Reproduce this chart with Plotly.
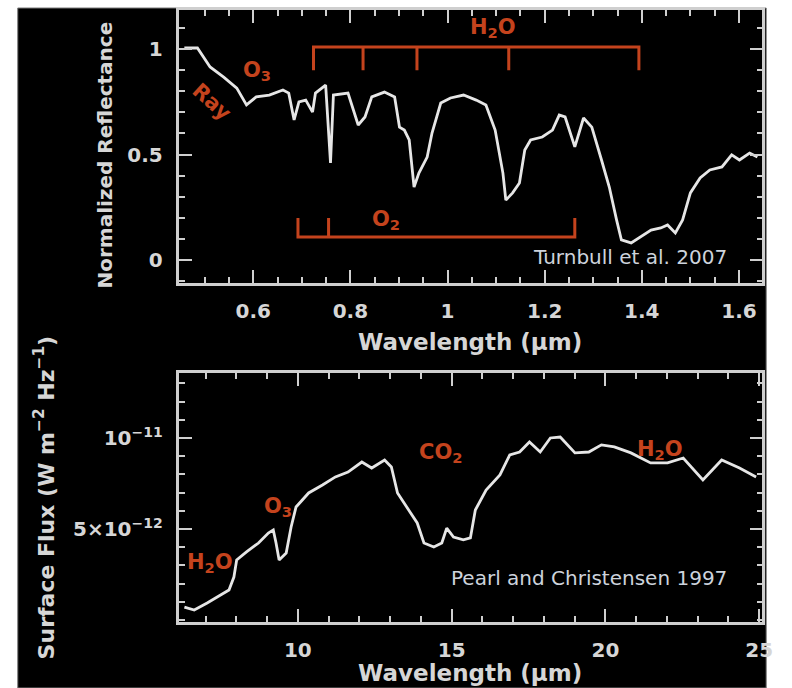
import plotly.graph_objects as go

# ---------------- data ----------------
# Top panel: Earthshine reflectance (Turnbull et al. 2007)
vis_wl = [0.458, 0.485, 0.511, 0.539, 0.566, 0.586, 0.606, 0.633, 0.661, 0.673, 0.684, 0.694,
          0.708, 0.722, 0.728, 0.749, 0.759, 0.765, 0.795, 0.816, 0.830, 0.844, 0.870, 0.891,
          0.901, 0.911, 0.921, 0.931, 0.941, 0.958, 0.968, 0.986, 1.006, 1.033, 1.059, 1.079,
          1.098, 1.114, 1.120, 1.134, 1.148, 1.159, 1.171, 1.195, 1.216, 1.230, 1.242, 1.262,
          1.280, 1.297, 1.317, 1.333, 1.348, 1.358, 1.378, 1.398, 1.419, 1.439, 1.453, 1.469,
          1.484, 1.500, 1.520, 1.540, 1.565, 1.585, 1.601, 1.622, 1.638]
vis_refl = [1.005, 1.005, 0.915, 0.867, 0.815, 0.735, 0.773, 0.782, 0.806, 0.791, 0.664, 0.749,
            0.758, 0.701, 0.791, 0.829, 0.460, 0.782, 0.791, 0.640, 0.678, 0.773, 0.796, 0.773,
            0.630, 0.616, 0.569, 0.346, 0.412, 0.488, 0.602, 0.744, 0.768, 0.782, 0.758, 0.735,
            0.616, 0.412, 0.284, 0.318, 0.365, 0.521, 0.569, 0.583, 0.616, 0.687, 0.678, 0.536,
            0.673, 0.630, 0.474, 0.346, 0.190, 0.095, 0.081, 0.109, 0.142, 0.152, 0.166, 0.128,
            0.190, 0.318, 0.389, 0.427, 0.441, 0.498, 0.474, 0.507, 0.488]

# Bottom panel: thermal surface flux (Pearl and Christensen 1997), units of 1e-12
ir_wl = [6.31, 6.63, 7.05, 7.47, 7.76, 7.92, 8.01, 8.33, 8.72, 9.04, 9.20, 9.29, 9.39, 9.62,
         9.78, 9.94, 10.35, 10.80, 11.22, 11.63, 12.08, 12.40, 12.82, 13.04, 13.24, 13.56,
         13.88, 14.10, 14.42, 14.68, 14.84, 15.06, 15.38, 15.61, 15.77, 16.12, 16.57, 16.89,
         17.21, 17.53, 17.88, 18.21, 18.53, 19.01, 19.46, 19.87, 20.29, 20.83, 21.47, 22.02,
         22.53, 23.17, 23.78, 24.36, 24.90]
ir_flux_e12 = [0.71, 0.55, 0.93, 1.37, 1.65, 2.36, 3.30, 3.74, 4.23, 4.78, 4.95, 4.23, 3.30, 3.68,
               5.11, 6.21, 6.98, 7.42, 7.86, 8.13, 8.68, 8.35, 8.79, 8.41, 6.98, 6.15,
               5.33, 4.23, 4.01, 4.23, 5.05, 4.56, 4.40, 4.51, 6.04, 7.14, 7.97, 9.07,
               9.23, 9.78, 9.23, 10.00, 10.05, 9.18, 9.23, 9.62, 9.51, 9.18, 8.63, 8.63,
               8.90, 7.69, 8.79, 8.35, 7.86]
ir_flux = [v * 1e-12 for v in ir_flux_e12]

# absorption-band brackets (top panel)
h2o_bracket_wl = [0.724, 0.826, 0.937, 1.126, 1.394]
h2o_bracket_y = [1.010, 0.900]   # bar level, tick end
o2_bracket_wl = [0.692, 0.755, 1.262]
o2_bracket_y = [0.109, 0.199]

# tick labels
top_xticks = [0.6, 0.8, 1.0, 1.2, 1.4, 1.6]
top_xticklabels = ["0.6", "0.8", "1", "1.2", "1.4", "1.6"]
top_yticks = [0, 0.5, 1]
top_yticklabels = ["0", "0.5", "1"]
bot_xticks = [10, 15, 20, 25]
bot_xticklabels = ["10", "15", "20", "25"]
bot_yticks = [5e-12, 1e-11]
bot_yticklabels = ["5×10<sup>−12</sup>", "10<sup>−11</sup>"]

# ---------------- styling ----------------
W, H = 792, 688
RED = "#c4431d"
AX = "#cfcfcf"
TXT = "#d6d6d6"
LINE = "#e6e6e6"
FONT = "DejaVu Sans"


def px(x):
    return x / W


def py(y):
    return 1 - y / H


fig = go.Figure()

fig.add_trace(go.Scatter(x=vis_wl, y=vis_refl, mode="lines",
                         line=dict(color=LINE, width=2.8), xaxis="x", yaxis="y",
                         hoverinfo="skip", showlegend=False))


def bracket(xs, ys):
    bx, by = [xs[0], xs[0], xs[-1], xs[-1], None], [ys[1], ys[0], ys[0], ys[1], None]
    for v in xs[1:-1]:
        bx += [v, v, None]
        by += [ys[0], ys[1], None]
    return bx, by


hx, hy = bracket(h2o_bracket_wl, h2o_bracket_y)
ox, oy = bracket(o2_bracket_wl, o2_bracket_y)
for bx, by in ((hx, hy), (ox, oy)):
    fig.add_trace(go.Scatter(x=bx, y=by, mode="lines", line=dict(color=RED, width=3),
                             xaxis="x", yaxis="y", hoverinfo="skip", showlegend=False))

fig.add_trace(go.Scatter(x=ir_wl, y=ir_flux, mode="lines",
                         line=dict(color=LINE, width=2.8), xaxis="x2", yaxis="y2",
                         hoverinfo="skip", showlegend=False))

tickfont = dict(family=FONT, size=20, color=TXT, weight="bold")
common = dict(showline=True, linecolor=AX, linewidth=2.5, mirror="ticks", ticks="inside",
              tickcolor=AX, tickwidth=2, ticklen=13, showgrid=False, zeroline=False,
              tickfont=tickfont, tickmode="array")

fig.update_layout(
    width=W, height=H, margin=dict(l=0, r=0, t=0, b=0),
    paper_bgcolor="white", plot_bgcolor="rgba(0,0,0,0)",
    xaxis=dict(domain=[px(182), px(773)], range=[0.448, 1.648], anchor="y",
               tickvals=top_xticks, ticktext=top_xticklabels, ticklabelstandoff=8,
               minor=dict(tickmode="linear", tick0=0, dtick=0.05, ticks="inside",
                          ticklen=6, tickcolor=AX, tickwidth=2), **common),
    yaxis=dict(domain=[py(283), py(10)], range=[-0.109, 1.185], anchor="x",
               tickvals=top_yticks, ticktext=top_yticklabels, ticklabelstandoff=10,
               minor=dict(tickmode="linear", tick0=0, dtick=0.1, ticks="inside",
                          ticklen=6, tickcolor=AX, tickwidth=2), **common),
    xaxis2=dict(domain=[px(182), px(773)], range=[6.15, 25.1], anchor="y2",
                tickvals=bot_xticks, ticktext=bot_xticklabels, ticklabelstandoff=8,
                minor=dict(tickmode="linear", tick0=0, dtick=1, ticks="inside",
                           ticklen=6, tickcolor=AX, tickwidth=2), **common),
    yaxis2=dict(domain=[py(622), py(373)], range=[-0.11e-12, 13.57e-12], anchor="x2",
                tickvals=bot_yticks, ticktext=bot_yticklabels, ticklabelstandoff=10,
                minor=dict(tickmode="linear", tick0=0, dtick=1e-12, ticks="inside",
                           ticklen=6, tickcolor=AX, tickwidth=2), **common),
    shapes=[dict(type="rect", xref="paper", yref="paper", x0=px(18), x1=px(777),
                 y0=0, y1=py(8), fillcolor="black", line=dict(color="#7a7a7a", width=1),
                 layer="below")],
)

redfont = dict(family=FONT, size=21, color=RED, weight="bold")
notes = [
    ("x", "y", 1.094, 1.10, "H<sub>2</sub>O", 0),
    ("x", "y", 0.874, 0.19, "O<sub>2</sub>", 0),
    ("x", "y", 0.608, 0.896, "O<sub>3</sub>", 0),
    ("x", "y", 0.515, 0.749, "Ray", 42),
    ("x2", "y2", 7.15, 3.13e-12, "H<sub>2</sub>O", 0),
    ("x2", "y2", 9.36, 6.21e-12, "O<sub>3</sub>", 0),
    ("x2", "y2", 14.65, 9.18e-12, "CO<sub>2</sub>", 0),
    ("x2", "y2", 21.76, 9.34e-12, "H<sub>2</sub>O", 0),
]
for xr, yr, x, y, t, ang in notes:
    fig.add_annotation(xref=xr, yref=yr, x=x, y=y, text=t, showarrow=False,
                       font=redfont, textangle=ang, xanchor="center", yanchor="middle")

credfont = dict(family=FONT, size=20, color="#cdd3dc")
fig.add_annotation(xref="x", yref="y", x=1.376, y=0.014, text="Turnbull et al. 2007",
                   showarrow=False, font=credfont, xanchor="center", yanchor="middle")
fig.add_annotation(xref="x2", yref="y2", x=19.46, y=2.31e-12, text="Pearl and Christensen 1997",
                   showarrow=False, font=credfont, xanchor="center", yanchor="middle")

xtitlefont = dict(family=FONT, size=23, color=TXT, weight="bold")
ytitlefont = dict(family=FONT, size=22, color=TXT, weight="bold")
fig.add_annotation(xref="paper", yref="paper", x=px(477), y=py(342), text="Wavelength (μm)",
                   showarrow=False, font=xtitlefont, xanchor="center", yanchor="middle")
fig.add_annotation(xref="paper", yref="paper", x=px(477), y=py(673), text="Wavelength (μm)",
                   showarrow=False, font=xtitlefont, xanchor="center", yanchor="middle")
fig.add_annotation(xref="paper", yref="paper", x=px(106), y=py(155),
                   text="Normalized Reflectance", showarrow=False,
                   font=dict(family=FONT, size=20, color=TXT, weight="bold"),
                   textangle=-90, xanchor="center", yanchor="middle")
fig.add_annotation(xref="paper", yref="paper", x=px(45), y=py(497),
                   text="Surface Flux (W m<sup>−2</sup> Hz<sup>−1</sup>)", showarrow=False,
                   font=ytitlefont, textangle=-90, xanchor="center", yanchor="middle")

fig.write_html("out.html")
